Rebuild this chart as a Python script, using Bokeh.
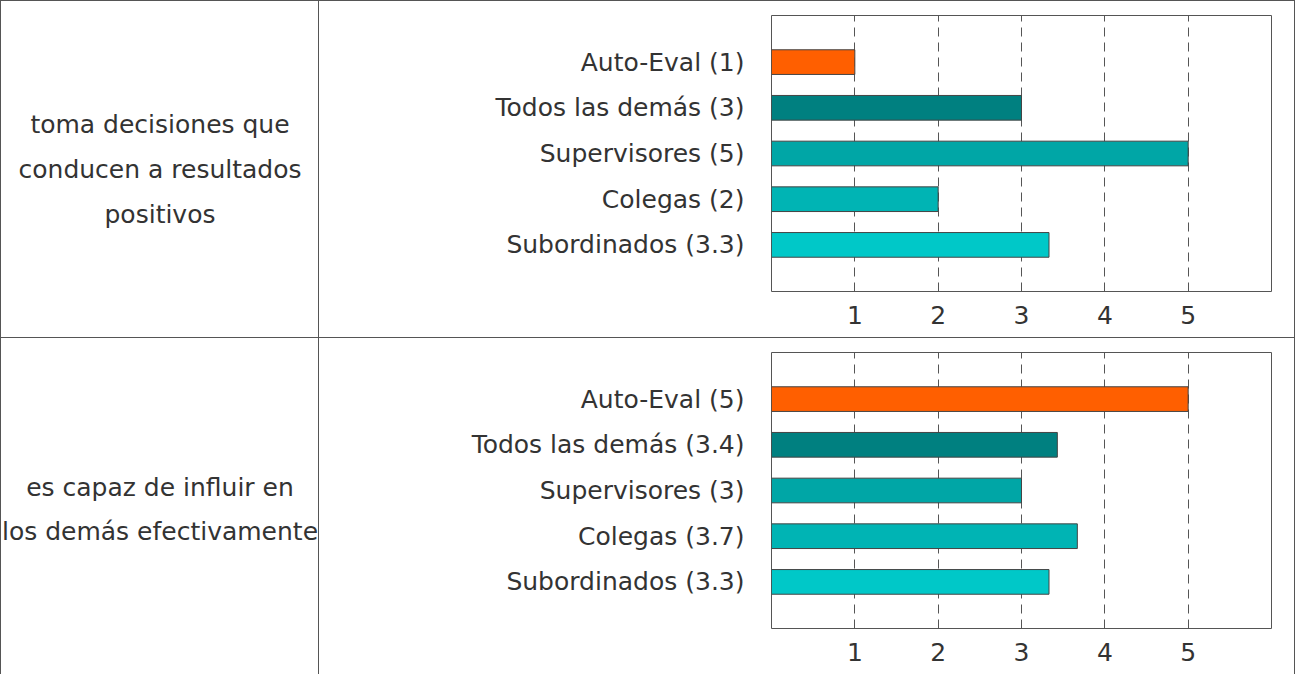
from bokeh.plotting import figure
from bokeh.models import FactorRange, Range1d, FixedTicker
from bokeh.layouts import row, column
from bokeh.embed import file_html
from bokeh.resources import INLINE
from bokeh.core.properties import value

# ---- data ----
questions = [
    "toma decisiones que\nconducen a resultados\npositivos",
    "es capaz de influir en\nlos demás efectivamente",
]
groups = ["Auto-Eval", "Todos las demás", "Supervisores", "Colegas", "Subordinados"]
scores_q1 = [1, 3, 5, 2, 3.33]
scores_q2 = [5, 3.43, 3, 3.67, 3.33]
bar_colors = ["#FF5F00", "#008080", "#00A6A6", "#00B4B4", "#00C8C8"]
x_ticks = [1, 2, 3, 4, 5]

FONT_NAME = "DejaVu Sans"
FS = "25px"
TXT = "#333333"
LINE = "#555555"
BORDERS = dict(min_border_top=14, min_border_bottom=46)


def fmt(v):
    s = f"{v:.1f}"
    return s[:-2] if s.endswith(".0") else s


def text_cell(label, shift):
    p = figure(width=317, height=336, x_range=Range1d(0, 1), y_range=Range1d(0, 1),
               x_axis_type=None, y_axis_type=None, toolbar_location=None,
               output_backend="svg", min_border_left=0, min_border_right=0, **BORDERS,
               styles={"background-color": "#ffffff"})
    p.grid.visible = False
    p.outline_line_color = None
    p.background_fill_color = None
    p.border_fill_color = None
    p.text(x=[0.5], y=[0.5], text=[label], text_align="center", text_baseline="middle",
           y_offset=shift, text_font=value(FONT_NAME), text_font_size=FS, text_color=TXT,
           text_line_height=1.55)
    return p


def chart_cell(scores):
    labels = [f"{g} ({fmt(v)})" for g, v in zip(groups, scores)]
    p = figure(width=975, height=336,
               y_range=FactorRange(factors=labels[::-1], range_padding=0.52,
                                   range_padding_units="absolute"),
               x_range=Range1d(0, 6),
               min_border_left=452, min_border_right=23, **BORDERS,
               toolbar_location=None, output_backend="svg",
               styles={"background-color": "#ffffff"})
    p.background_fill_color = None
    p.border_fill_color = None
    p.hbar(y=labels, left=0, right=scores, height=0.54, fill_color=bar_colors,
           line_color="#444444", line_width=1)
    p.outline_line_color = LINE
    p.outline_line_width = 1
    p.ygrid.visible = False
    p.xgrid.ticker = FixedTicker(ticks=x_ticks)
    p.xgrid.grid_line_color = LINE
    p.xgrid.grid_line_dash = "9 6"
    p.xgrid.grid_line_width = 1
    p.xaxis.ticker = FixedTicker(ticks=x_ticks)
    for ax in (p.xaxis[0], p.yaxis[0]):
        ax.axis_line_color = None
        ax.major_tick_line_color = None
        ax.minor_tick_line_color = None
        ax.major_tick_out = 0
        ax.major_tick_in = 0
        ax.major_label_text_font = FONT_NAME
        ax.major_label_text_font_size = FS
        ax.major_label_text_color = TXT
    p.xaxis.major_label_standoff = 14
    p.yaxis.major_label_standoff = 27
    return p


r1 = row(text_cell(questions[0], 16), chart_cell(scores_q1), spacing=1)
r2 = row(text_cell(questions[1], 19), chart_cell(scores_q2), spacing=1)
layout = column(r1, r2, spacing=1,
                styles={"background-color": LINE, "padding": "1px 1px 0px 1px"})

open("out.html", "w").write(file_html(layout, INLINE))
